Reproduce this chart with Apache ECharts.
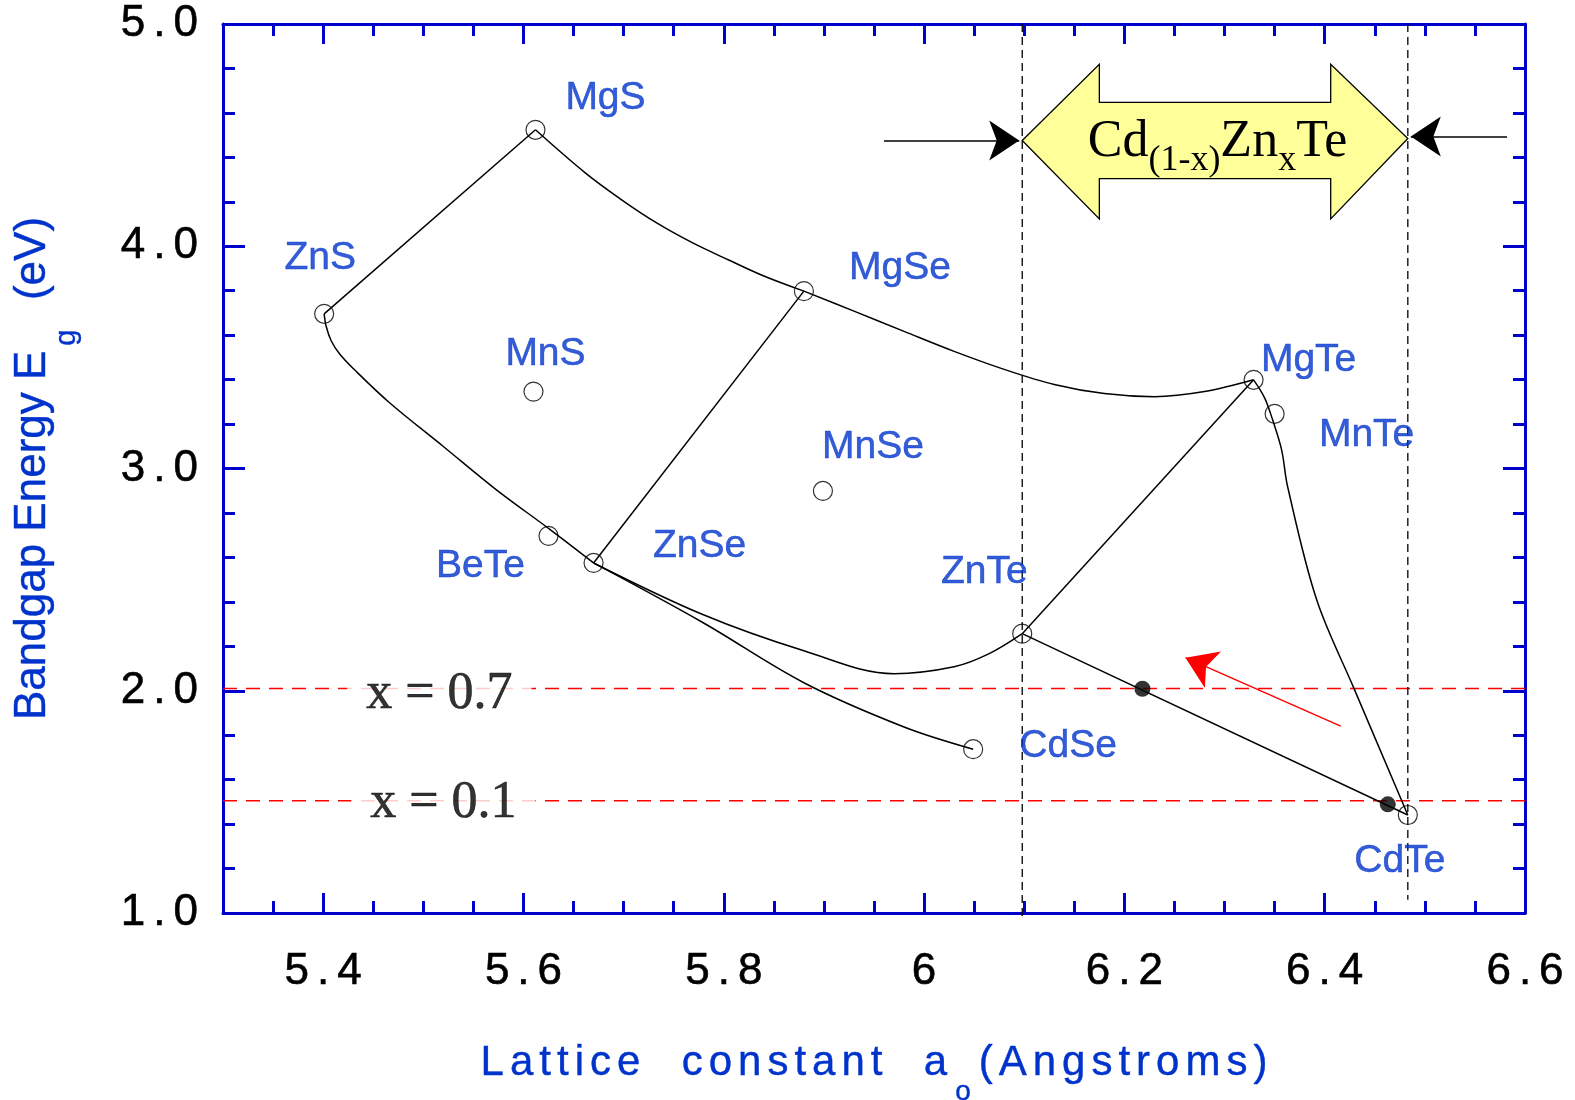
<!DOCTYPE html>
<html>
<head>
<meta charset="utf-8">
<script src="https://cdn.jsdelivr.net/npm/echarts@6/dist/echarts.min.js"></script>
<style>
  html, body { margin: 0; padding: 0; background: #ffffff; }
  #chart { width: 1575px; height: 1100px; }
</style>
</head>
<body>
<div id="chart"></div>
<script>
// II-VI semiconductors: lattice constant a0 (Angstroms) vs bandgap Eg (eV)
const compounds = ['ZnS', 'MgS', 'MgSe', 'MnS', 'MnSe', 'BeTe', 'ZnSe', 'ZnTe', 'MgTe', 'MnTe', 'CdSe', 'CdTe'];
const latticeA  = [5.401, 5.612, 5.880, 5.610, 5.899, 5.625, 5.670, 6.098, 6.329, 6.350, 6.049, 6.483];
const bandgapEV = [3.696, 4.524, 3.798, 3.346, 2.899, 2.697, 2.575, 2.257, 3.399, 3.246, 1.737, 1.441];

// Cd(1-x)Zn(x)Te compositions marked on the ZnTe-CdTe tie line
const alloyNames = ['x = 0.7', 'x = 0.1'];
const alloyA     = [6.218, 6.463];
const alloyEg    = [2.009, 1.489];
// where the composition captions sit
const alloyTextA  = [5.516, 5.520];
const alloyTextEg = [1.986, 1.493];

// Ternary tie lines [a0, Eg]
const lineZnS_MgS   = [[5.401, 3.696], [5.612, 4.524]];
const lineMgS_MgSe  = [[5.612, 4.524], [5.662, 4.329], [5.698, 4.209], [5.733, 4.105], [5.769, 4.015],
                       [5.805, 3.938], [5.840, 3.866], [5.880, 3.798]];
const lineMgSe_MgTe = [[5.880, 3.798], [5.930, 3.708], [5.980, 3.617], [6.030, 3.527], [6.080, 3.446],
                       [6.130, 3.378], [6.180, 3.337], [6.230, 3.323], [6.280, 3.346], [6.329, 3.399]];
const lineZnS_ZnSe  = [[5.401, 3.696], [5.403, 3.640], [5.408, 3.575], [5.4165, 3.515], [5.430, 3.450],
                       [5.466, 3.297], [5.520, 3.099], [5.573, 2.904], [5.627, 2.724], [5.670, 2.575]];
const lineZnSe_MgSe = [[5.670, 2.575], [5.880, 3.798]];
const lineZnSe_ZnTe = [[5.670, 2.575], [5.779, 2.343], [5.880, 2.180], [5.970, 2.077], [6.030, 2.108],
                       [6.065, 2.167], [6.098, 2.257]];
const lineZnSe_CdSe = [[5.670, 2.575], [5.779, 2.307], [5.880, 2.036], [5.980, 1.837], [6.049, 1.737]];
const lineZnTe_MgTe = [[6.098, 2.257], [6.329, 3.399]];
const lineZnTe_CdTe = [[6.098, 2.257], [6.483, 1.441]];
const lineMgTe_CdTe = [[6.329, 3.399], [6.340, 3.318], [6.348, 3.219], [6.357, 3.084], [6.363, 2.918],
                       [6.392, 2.409], [6.429, 2.013], [6.483, 1.441]];

// Reference levels and lattice-constant limits of the CdZnTe range
const eg07 = 2.01, eg01 = 1.505;
const aZnTe = 6.098, aCdTe = 6.483;

// Axis ticks
const xTickValues = [5.4, 5.6, 5.8, 6.0, 6.2, 6.4, 6.6];
const xTickLabels = ['5.4', '5.6', '5.8', '6', '6.2', '6.4', '6.6'];
const yTickLabels = ['1.0', '2.0', '3.0', '4.0', '5.0'];

// ---- drawing ----
const axisBlue = '#0000cc';
const textBlue = '#0033cc';
const sans = "'Liberation Sans', Arial, Helvetica, sans-serif";
const serif = "'Liberation Serif', 'Times New Roman', serif";

// per-character tokens give the wide letter spacing of the axis text
const spaced = (s, key) => s.split('').map(c => `{${key}|${c}}`).join('');

// label offsets (px) of each compound name from its marker
const nameOffset = {
  ZnS: [-4, -56], MgS: [70, -32], MgSe: [96, -23], MnS: [12, -37], MnSe: [50, -44], BeTe: [-68, 30],
  ZnSe: [106, -17], ZnTe: [-38, -61], MgTe: [55, -20], MnTe: [92, 21], CdSe: [95, -3], CdTe: [-8, 46]
};

// double-headed banner and pointer arrows, in axis units
const bannerShape = [[6.098, 4.476], [6.175, 4.819], [6.175, 4.647], [6.406, 4.647], [6.406, 4.819],
                     [6.483, 4.485], [6.406, 4.123], [6.406, 4.304], [6.175, 4.304], [6.175, 4.123]];
const bannerTextAt = [6.293, 4.445];
const blackArrows = [[[5.960, 4.476], [6.095, 4.476]], [[6.582, 4.494], [6.486, 4.494]]];
const redArrow = [[6.416, 1.841], [6.261, 2.149]];

const tickLabelRich = { c: { fontSize: 44, fontFamily: sans, color: '#000', padding: [0, 4],
                             textBorderColor: '#000', textBorderWidth: 0.6 } };

function majorX(position, showLabel) {
  return {
    type: 'value', min: 5.3, max: 6.6, position,
    axisLine: { show: true, onZero: false, lineStyle: { color: axisBlue, width: 3 } },
    axisTick: { show: true, inside: true, length: 20, customValues: xTickValues,
                lineStyle: { color: axisBlue, width: 3 } },
    axisLabel: showLabel ? {
      show: true, customValues: xTickValues, margin: 37,
      formatter: v => spaced(xTickLabels[xTickValues.findIndex(t => Math.abs(t - v) < 1e-6)] || '', 'c'),
      rich: tickLabelRich
    } : { show: false },
    splitLine: { show: false }
  };
}
function minorX(position) {
  return {
    type: 'value', min: 5.3, max: 6.6, interval: 0.05, position,
    axisLine: { show: false, onZero: false },
    axisTick: { show: true, inside: true, length: 12, lineStyle: { color: axisBlue, width: 3 } },
    axisLabel: { show: false }, splitLine: { show: false }
  };
}
function yAxisOf(position, showLabel) {
  return {
    type: 'value', min: 1, max: 5, interval: 1, position,
    axisLine: { show: true, onZero: false, lineStyle: { color: axisBlue, width: 3 } },
    axisTick: { show: true, inside: true, length: 22, lineStyle: { color: axisBlue, width: 3 } },
    minorTick: { show: true, splitNumber: 5, length: 12, lineStyle: { color: axisBlue, width: 3 } },
    axisLabel: showLabel ? {
      show: true, margin: 21,
      formatter: v => spaced(yTickLabels[Math.round(v) - 1] || '', 'c'),
      rich: tickLabelRich
    } : { show: false },
    splitLine: { show: false }, minorSplitLine: { show: false }
  };
}

const titleInk = { textBorderColor: textBlue, textBorderWidth: 0.4 };

const xMain = majorX('bottom', true);
xMain.name = spaced('Lattice  constant  a', 't') + '{o|o}' + spaced('(Angstroms)', 't');
xMain.nameLocation = 'middle';
xMain.nameGap = 129;
xMain.nameTextStyle = {
  rich: {
    t: Object.assign({ fontSize: 42, fontFamily: sans, color: textBlue, lineHeight: 42, verticalAlign: 'top', padding: [0, 3] }, titleInk),
    o: Object.assign({ fontSize: 28, fontFamily: sans, color: textBlue, lineHeight: 64, verticalAlign: 'bottom', padding: [0, 5] }, titleInk)
  }
};

const yMain = yAxisOf('left', true);
yMain.name = '{t|Bandgap Energy E}{g|g}{t|  (eV)}';
yMain.nameLocation = 'middle';
yMain.nameGap = 142;
yMain.nameRotate = 90;
yMain.nameTextStyle = {
  rich: {
    t: Object.assign({ fontSize: 44, fontFamily: sans, color: textBlue, lineHeight: 44, verticalAlign: 'top' }, titleInk),
    g: Object.assign({ fontSize: 29, fontFamily: sans, color: textBlue, lineHeight: 70, verticalAlign: 'bottom', padding: [0, 5] }, titleInk)
  }
};

const blackLine = { color: '#000', width: 1.5 };
function tie(data, smooth) {
  return { type: 'line', data, smooth: smooth ? 0.35 : false, symbol: 'none', lineStyle: blackLine,
           silent: true, z: 2, xAxisIndex: 0, yAxisIndex: 0 };
}

const option = {
  animation: false,
  backgroundColor: '#ffffff',
  grid: { left: 223, right: 50, top: 24, bottom: 187, containLabel: false, outerBoundsMode: 'none' },
  xAxis: [xMain, minorX('bottom'), majorX('top', false), minorX('top')],
  yAxis: [yMain, yAxisOf('right', false)],
  series: [
    tie(lineZnS_MgS, false),
    tie(lineMgS_MgSe, true),
    tie(lineMgSe_MgTe, true),
    tie(lineZnS_ZnSe, true),
    tie(lineZnSe_MgSe, false),
    tie(lineZnSe_ZnTe, true),
    tie(lineZnSe_CdSe, true),
    tie(lineZnTe_MgTe, false),
    tie(lineZnTe_CdTe, false),
    tie(lineMgTe_CdTe, true),
    // composition levels
    { type: 'line', data: [[5.3, eg07], [6.6, eg07]], symbol: 'none', silent: true, z: 1,
      lineStyle: { color: '#ff0000', width: 1.5, type: [14, 9] } },
    { type: 'line', data: [[5.3, eg01], [6.6, eg01]], symbol: 'none', silent: true, z: 1,
      lineStyle: { color: '#ff0000', width: 1.5, type: [14, 9] } },
    // ZnTe and CdTe lattice constants
    { type: 'line', data: [[aZnTe, 5.0], [aZnTe, 0.97]], symbol: 'none', silent: true, z: 1, clip: false,
      lineStyle: { color: '#000', width: 1.3, type: [8, 5] } },
    { type: 'line', data: [[aCdTe, 5.0], [aCdTe, 1.06]], symbol: 'none', silent: true, z: 1,
      lineStyle: { color: '#000', width: 1.3, type: [8, 5] } },
    // binary compounds
    {
      type: 'scatter', symbol: 'circle', symbolSize: 19, z: 4, silent: true,
      itemStyle: { color: 'rgba(0,0,0,0)', borderColor: '#000', borderWidth: 1.2 },
      data: compounds.map((n, i) => ({
        name: n, value: [latticeA[i], bandgapEV[i]],
        label: { show: true, position: 'inside', formatter: '{b}', offset: nameOffset[n],
                 fontSize: 39, fontFamily: sans, color: textBlue,
                 textBorderColor: textBlue, textBorderWidth: 0.5, textShadowBlur: 0 }
      }))
    },
    // alloy compositions
    {
      type: 'scatter', symbol: 'circle', symbolSize: 16, z: 4, silent: true,
      itemStyle: { color: '#000' },
      data: alloyA.map((a, i) => [a, alloyEg[i]])
    },
    {
      type: 'scatter', symbolSize: 0, z: 5, silent: true,
      data: alloyNames.map((n, i) => ({ name: n, value: [alloyTextA[i], alloyTextEg[i]] })),
      label: { show: true, position: 'inside', formatter: '{b}', fontSize: 52, fontFamily: serif,
               color: '#000', textBorderColor: '#000', textBorderWidth: 0.6, textShadowBlur: 0,
               backgroundColor: '#ffffff', padding: [0, 19] }
    },
    // pointer arrows
    {
      type: 'lines', coordinateSystem: 'cartesian2d', xAxisIndex: 0, yAxisIndex: 0, z: 5, silent: true,
      symbol: ['none', 'arrow'], symbolSize: 30,
      lineStyle: { color: '#000', width: 1.5, opacity: 1, curveness: 0 },
      data: blackArrows.map(c => ({ coords: c }))
    },
    {
      type: 'lines', coordinateSystem: 'cartesian2d', xAxisIndex: 0, yAxisIndex: 0, z: 5, silent: true,
      symbol: ['none', 'arrow'], symbolSize: 30,
      lineStyle: { color: '#ff0000', width: 1.5, opacity: 1, curveness: 0 },
      data: [{ coords: redArrow }]
    },
    // Cd(1-x)Zn(x)Te banner
    {
      type: 'custom', xAxisIndex: 0, yAxisIndex: 0, z: 6, silent: true,
      data: [0],
      renderItem: (params, api) => {
        const pts = bannerShape.map(p => api.coord(p));
        const c = api.coord(bannerTextAt);
        return {
          type: 'group',
          children: [
            { type: 'polygon', shape: { points: pts },
              style: { fill: '#ffff99', stroke: '#000', lineWidth: 1.3 } },
            { type: 'text', x: c[0], y: c[1],
              style: {
                text: '{m|Cd}{s|(1-x)}{m|Zn}{s|x}{m|Te}',
                align: 'center', verticalAlign: 'middle',
                rich: {
                  m: { fontSize: 52, fontFamily: serif, fill: '#000', lineHeight: 52, verticalAlign: 'top' },
                  s: { fontSize: 36, fontFamily: serif, fill: '#000', lineHeight: 63, verticalAlign: 'bottom' }
                }
              } }
          ]
        };
      }
    }
  ]
};

const chart = echarts.init(document.getElementById('chart'), null, { renderer: 'canvas' });
chart.setOption(option);
</script>
</body>
</html>
